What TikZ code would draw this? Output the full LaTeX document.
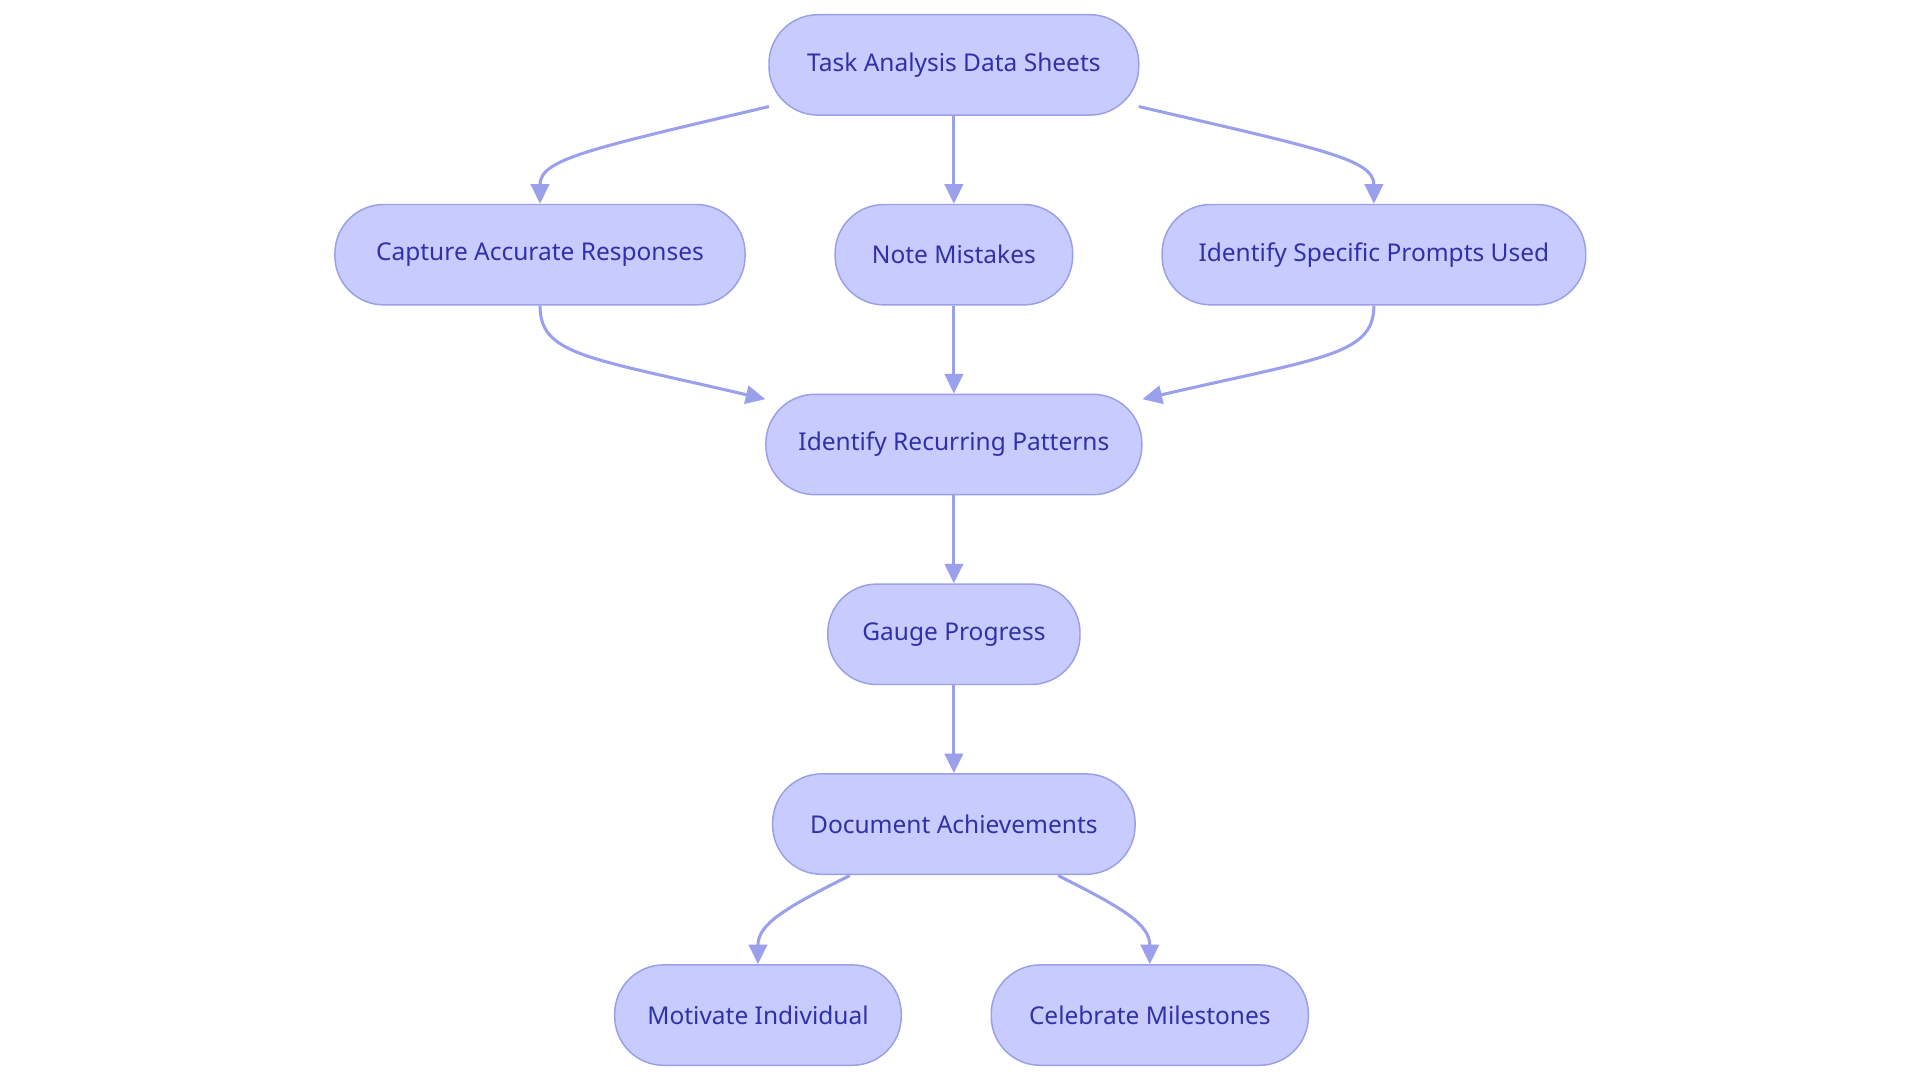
\documentclass[tikz,border=0pt]{standalone}
\usepackage{fontspec}
\setmainfont{Noto Sans}
\usetikzlibrary{arrows.meta,calc}
\definecolor{nfill}{HTML}{C8CBFE}
\definecolor{nline}{HTML}{9A9FE8}
\definecolor{ntext}{HTML}{3030A8}
\definecolor{eline}{HTML}{9AA0EC}
\begin{document}
\begin{tikzpicture}[x=1pt,y=-1pt,
  box/.style={draw=nline,fill=nfill,line width=1.2pt,rounded corners=40pt,minimum height=82pt,inner sep=0pt,text=ntext,font=\fontsize{20}{24}\selectfont},
  e/.style={draw=eline,line width=2.5pt,-{Triangle[length=16pt,width=15pt]}}]
\useasboundingbox (0,0) rectangle (1568,882);
\node[box,minimum width=302pt] (t) at (779,53) {Task Analysis Data Sheets};
\node[box,minimum width=335pt] (c) at (441,208) {Capture Accurate Responses};
\node[box,minimum width=194pt] (n) at (779,208) {Note Mistakes};
\node[box,minimum width=346pt] (s) at (1122,208) {Identify Specific Prompts Used};
\node[box,minimum width=307pt] (r) at (779,363) {Identify Recurring Patterns};
\node[box,minimum width=206pt] (g) at (779,518) {Gauge Progress};
\node[box,minimum width=296pt] (d) at (779,673) {Document Achievements};
\node[box,minimum width=234pt] (m) at (619,829) {Motivate Individual};
\node[box,minimum width=259pt] (k) at (939,829) {Celebrate Milestones};
\coordinate (t1) at (628,87);
\coordinate (t2) at (930,87);
\coordinate (r1) at (625,326);
\coordinate (r2) at (933,326);
\coordinate (d1) at (694,715);
\coordinate (d2) at (864,715);
\draw[e] (t1) .. controls (480,122) and (441,130) .. (c.north);
\draw[e] (t) -- (n);
\draw[e] (t2) .. controls (1080,122) and (1122,130) .. (s.north);
\draw[e] (c.south) .. controls (441,290) and (480,292) .. (r1);
\draw[e] (n) -- (r);
\draw[e] (s.south) .. controls (1122,290) and (1080,292) .. (r2);
\draw[e] (r) -- (g);
\draw[e] (g) -- (d);
\draw[e] (d1) .. controls (640,742) and (619,755) .. (m.north);
\draw[e] (d2) .. controls (918,742) and (939,755) .. (k.north);
\end{tikzpicture}
\end{document}
